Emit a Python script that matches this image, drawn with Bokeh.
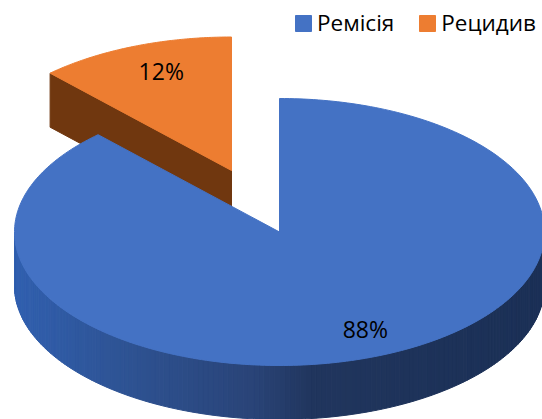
import numpy as np
from bokeh.plotting import figure
from bokeh.models import Range1d, Legend, LegendItem
from bokeh.core.properties import value
from bokeh.embed import file_html
from bokeh.resources import INLINE

categories = ["Ремісія", "Рецидив"]
shares = [88, 12]
labels = ["88%", "12%"]
top_colors = ["#4472c4", "#ed7d31"]
orange_side = "#70370f"

# Pie projection, in page pixels
CX, CY, RX, RY, DEPTH = 279, 231.5, 265, 133.5, 54
EXPLODE_X, EXPLODE_Y = -48, -61.5
FONT = "Open Sans"

p = figure(width=542, height=419, output_backend="svg", toolbar_location=None,
           x_range=Range1d(0, 542), y_range=Range1d(419, 0),
           min_border=0, outline_line_color=None, background_fill_color="white")
p.axis.visible = False
p.grid.visible = False

def ell(a, cx=CX, cy=CY):
    a = np.radians(a)
    return cx + RX * np.sin(a), cy - RY * np.cos(a)

split = 360 * shares[0] / sum(shares)

# Orange slice: cut face first, then the top
ax, ay = CX + EXPLODE_X, CY + EXPLODE_Y
ex, ey = ell(split, ax, ay)
p.patch([ex, ax, ax, ex], [ey, ay, ay + DEPTH, ey + DEPTH],
        fill_color=orange_side, line_color=orange_side)
oa = np.linspace(split, 360, 80)
ox, oy = ell(oa, ax, ay)
orange_top = p.patch(np.r_[ax, ox], np.r_[ay, oy], fill_color=top_colors[1],
                     line_color=top_colors[1], line_width=1)

# Blue rim, shaded from left to right
stops_x = [0.0, 0.18, 0.45, 0.56, 1.0]
stops_c = [(49, 96, 176), (47, 85, 151), (42, 68, 120), (33, 54, 94), (27, 48, 86)]
edges = np.linspace(90, 270, 161)
xs, ys, cols = [], [], []
for a0, a1 in zip(edges[:-1], edges[1:]):
    x0, y0 = ell(a0)
    x1, y1 = ell(a1)
    t = (x0 + x1 - 2 * (CX - RX)) / (4 * RX)
    rgb = [np.interp(t, stops_x, [c[i] for c in stops_c]) for i in range(3)]
    col = "#%02x%02x%02x" % tuple(int(v) for v in rgb)
    xs.append([x0, x1, x1, x0])
    ys.append([y0, y1, y1 + DEPTH, y0 + DEPTH])
    cols.append(col)
p.patches(xs, ys, fill_color=cols, line_color=cols, line_width=1)

# Blue top
ba = np.linspace(0, split, 300)
bx, by = ell(ba)
blue_top = p.patch(np.r_[CX, bx], np.r_[CY, by], fill_color=top_colors[0],
                   line_color=top_colors[0], line_width=1)

# Percentage labels
mid = np.radians([split / 2, split + (360 - split) / 2])
lx = [CX + 0.88 * RX * np.sin(mid[0]), ax + 0.72 * RX * np.sin(mid[1])]
ly = [CY - 0.785 * RY * np.cos(mid[0]), ay - 0.80 * RY * np.cos(mid[1])]
p.text(lx, ly, text=labels, text_font=value(FONT), text_font_size="23px",
       text_color="#000000", text_align="center", text_baseline="middle")

legend = Legend(items=[LegendItem(label=categories[0], renderers=[blue_top]),
                       LegendItem(label=categories[1], renderers=[orange_top])],
                orientation="horizontal", location=(293, 381),
                border_line_alpha=0, background_fill_alpha=0, margin=0, padding=0,
                glyph_width=20, glyph_height=20, label_standoff=4, spacing=23,
                label_text_font=FONT, label_text_font_size="22.5px",
                label_text_color="#000000", label_text_baseline="middle",
                label_height=20)
p.add_layout(legend)

open("out.html", "w").write(file_html(p, INLINE))
